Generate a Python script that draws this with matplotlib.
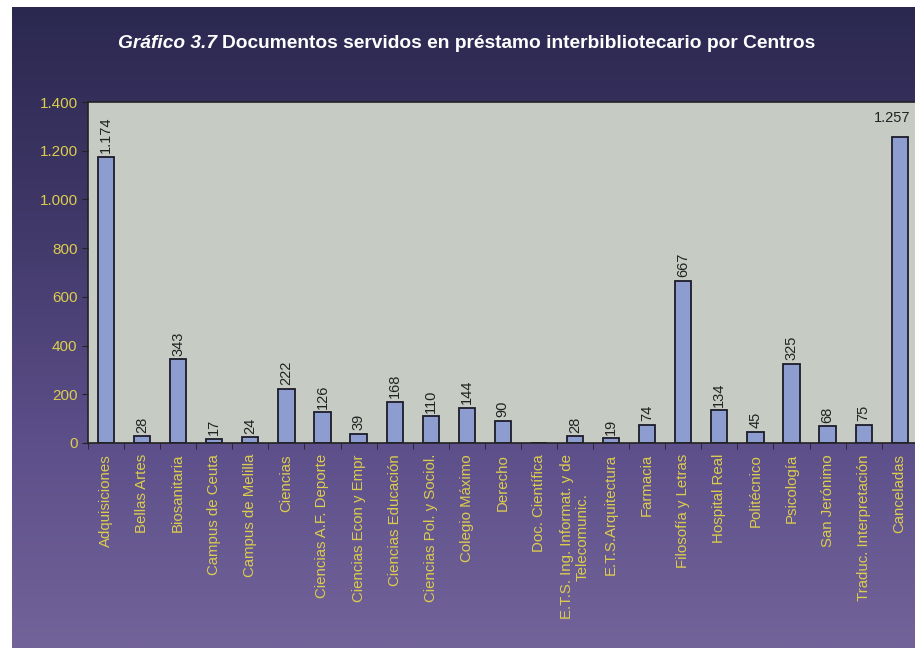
import numpy as np
import matplotlib
matplotlib.use("Agg")
import matplotlib.pyplot as plt
from matplotlib.colors import LinearSegmentedColormap
from matplotlib.ticker import FuncFormatter

centros = [
    "Adquisiciones", "Bellas Artes", "Biosanitaria", "Campus de Ceuta",
    "Campus de Melilla", "Ciencias", "Ciencias A.F. Deporte",
    "Ciencias Econ y Empr", "Ciencias Educación", "Ciencias Pol. y Sociol.",
    "Colegio Máximo", "Derecho", "Doc. Científica",
    "E.T.S. Ing. Informat. y de\nTelecomunic.", "E.T.S.Arquitectura",
    "Farmacia", "Filosofía y Letras", "Hospital Real", "Politécnico",
    "Psicología", "San Jerónimo", "Traduc. Interpretación", "Canceladas",
]
documentos = [1174, 28, 343, 17, 24, 222, 126, 39, 168, 110, 144, 90, 0,
              28, 19, 74, 667, 134, 45, 325, 68, 75, 1257]
y_ticks = [0, 200, 400, 600, 800, 1000, 1200, 1400]

YELLOW = "#dccd4e"


def miles(x, pos):
    """Formato con punto como separador de miles"""
    return f"{x:,.0f}".replace(",", ".")


def main():
    plt.rcParams["font.family"] = ["Liberation Sans", "DejaVu Sans"]
    fig = plt.figure(figsize=(9.15, 6.51), dpi=100, facecolor="white")

    # fondo degradado
    bg = fig.add_axes([12 / 915, 3 / 651, 1 - 12 / 915, 1 - 10 / 651], zorder=0)
    cmap = LinearSegmentedColormap.from_list(
        "fondo", ["#726399", "#5c4e89", "#403868", "#2b2850"])
    grad = np.linspace(0, 1, 256).reshape(-1, 1)
    bg.imshow(grad, aspect="auto", cmap=cmap, origin="lower",
              extent=[0, 1, 0, 1])
    bg.set_axis_off()

    ax = fig.add_axes([88 / 915, 1 - 443 / 651, 1 - 88 / 915 + 0.003,
                       (443 - 102) / 651], zorder=1)
    ax.set_facecolor("#c6ccc4")

    x = np.arange(len(centros))
    ax.bar(x, documentos, width=0.45, color="#8e9dd0",
           edgecolor="#1c1c2a", linewidth=1.3, zorder=2)

    for i, v in enumerate(documentos):
        if v == 0:
            continue
        if v > 1200:
            # la etiqueta de la última barra va horizontal
            ax.text(i - 0.2, v + 50, miles(v, None), ha="center",
                    va="bottom", fontsize=10.5, color="#222222")
        else:
            ax.text(i, v + 15, miles(v, None), ha="center", va="bottom",
                    rotation=90, fontsize=10.5, color="#222222")

    ax.set_xlim(-0.5, len(centros) - 0.5)
    ax.set_ylim(0, 1400)
    ax.set_yticks(y_ticks)
    ax.yaxis.set_major_formatter(FuncFormatter(miles))
    ax.tick_params(axis="y", colors="#222222", labelcolor=YELLOW,
                   labelsize=11, length=4, direction="out")

    ax.set_xticks(x)
    ax.set_xticklabels(centros, rotation=90, color=YELLOW, fontsize=10.8,
                       multialignment="center")
    ax.tick_params(axis="x", length=0, pad=8)
    ax.set_xticks(np.arange(len(centros) + 1) - 0.5, minor=True)
    ax.tick_params(axis="x", which="minor", length=4, color="#222222",
                   direction="out")

    for side in ["left", "bottom", "top"]:
        ax.spines[side].set_color("#222222")
        ax.spines[side].set_linewidth(1.2)
    ax.spines["right"].set_visible(False)

    t1 = fig.text(118 / 915, 1 - 44 / 651, "Gráfico 3.7", color="white",
                  fontsize=13.8, fontweight="bold", fontstyle="italic",
                  ha="left", va="center")
    fig.canvas.draw()
    bb = t1.get_window_extent()
    fig.text((bb.x1 + 5) / fig.bbox.width, 1 - 44 / 651,
             "Documentos servidos en préstamo interbibliotecario por Centros",
             color="white", fontsize=13.8, fontweight="bold",
             ha="left", va="center")

    fig.savefig("out.png", dpi=100, facecolor=fig.get_facecolor())


if __name__ == "__main__":
    main()
